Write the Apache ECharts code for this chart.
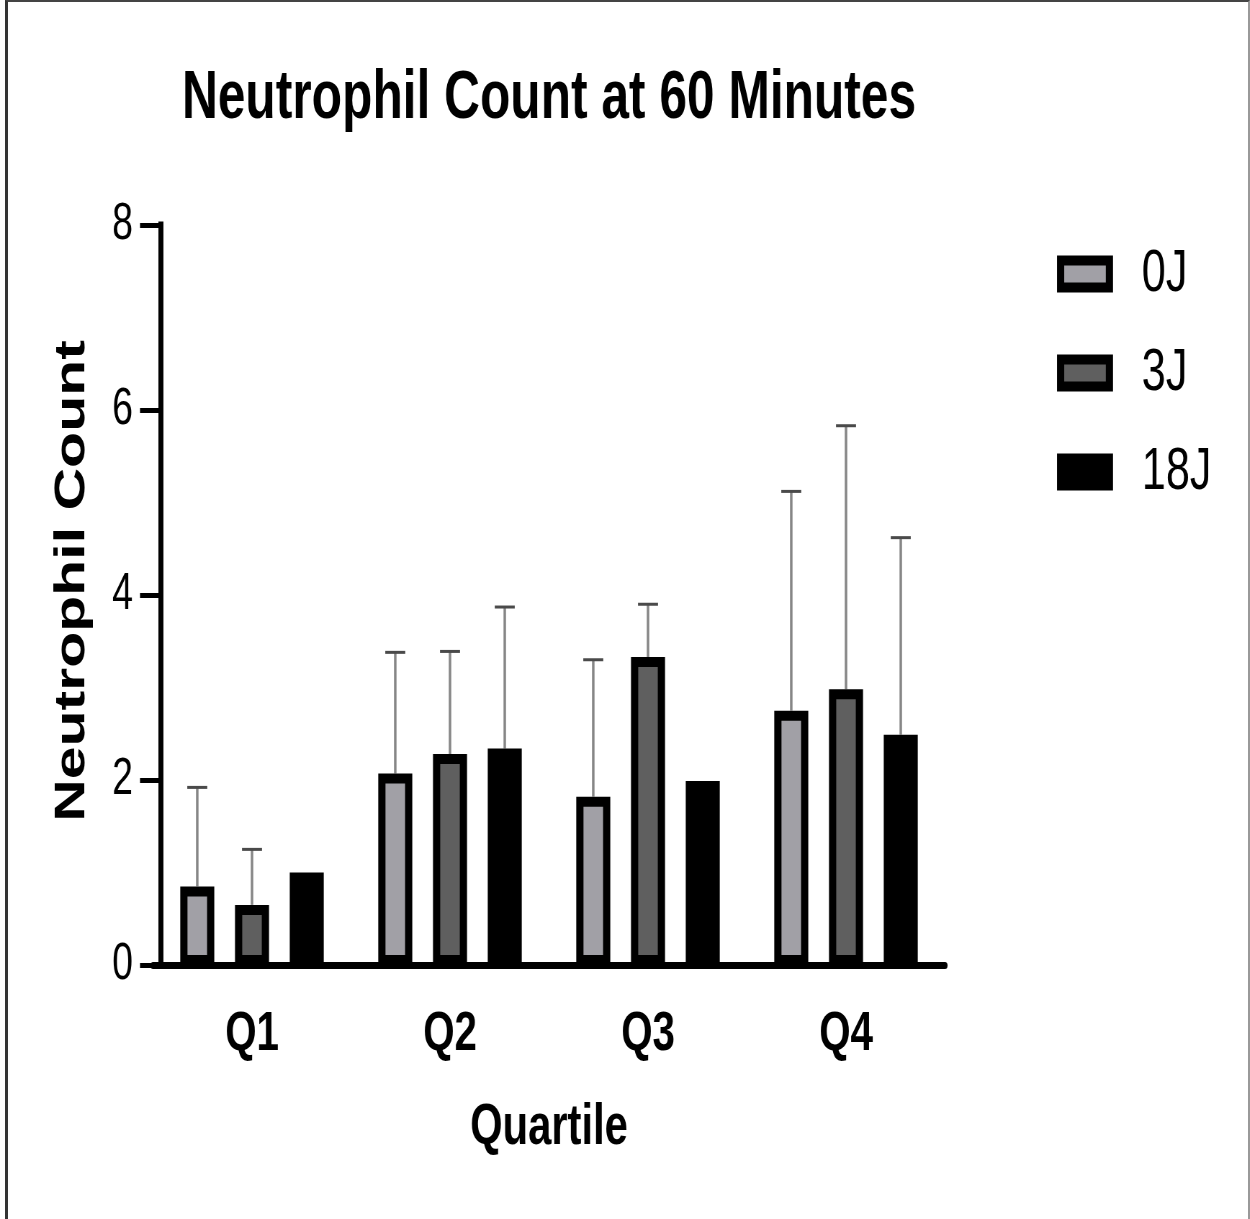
<!DOCTYPE html>
<html>
<head>
<meta charset="utf-8">
<title>Neutrophil Count at 60 Minutes</title>
<script src="https://cdn.jsdelivr.net/npm/echarts@6/dist/echarts.min.js"></script>
<style>
  html, body { margin: 0; padding: 0; background: #fff; overflow: hidden; }
  #wrap { position: relative; width: 1250px; height: 1219px; overflow: hidden; }
  #chart { height: 1219px; transform-origin: 0 0; }
  .frame {
    position: absolute; left: 5px; top: 0; width: 1245px; height: 1230px;
    border-left: 3px solid #333; border-top: 2px solid #444; border-right: 2px solid #999;
    box-sizing: border-box; pointer-events: none;
  }
</style>
</head>
<body>
<div id="wrap">
  <div id="chart"></div>
  <div class="frame"></div>
</div>
<script>
const QUARTILES = ['Q1', 'Q2', 'Q3', 'Q4']
const GROUPS = ['0J', '3J', '18J']

// bar heights (mean) per group, one value per quartile
const MEAN_0J = [0.85, 2.07, 1.82, 2.75]
const MEAN_3J = [0.65, 2.28, 3.33, 2.98]
const MEAN_18J = [1.0, 2.34, 1.99, 2.49]

// upward error (SD), null = no error bar
const SD_0J = [1.07, 1.31, 1.48, 2.37]
const SD_3J = [0.60, 1.11, 0.57, 2.85]
const SD_18J = [null, 1.53, null, 2.13]

const Y_TICKS = [0, 2, 4, 6, 8]

const MEANS = [MEAN_0J, MEAN_3J, MEAN_18J]
const SDS = [SD_0J, SD_3J, SD_18J]
const FILLS = ['#a1a0a6', '#5f5f5f', '#000000']

// the original figure is squeezed sideways, so the chart is laid out
// wider and scaled back down horizontally
const SQUASH = 0.72
const sx = (v) => v / SQUASH
const CHART_W = Math.round(sx(1250))

const FONT = "'Liberation Sans', Arial, sans-serif"
const BAR_W = sx(34)
const BAR_GAP = 0.61

const el = document.getElementById('chart')
el.style.width = CHART_W + 'px'
el.style.transform = `scaleX(${SQUASH})`
const chart = echarts.init(el)

const barSeries = GROUPS.map((name, gi) => ({
  name,
  type: 'bar',
  data: MEANS[gi],
  barWidth: BAR_W,
  barGap: BAR_GAP * 100 + '%',
  z: 3,
  itemStyle: {
    color: FILLS[gi],
    borderColor: '#000',
    borderWidth: 10,
  },
}))

const errorSeries = GROUPS.map((name, gi) => ({
  name: name + ' SD',
  type: 'custom',
  z: 2,
  silent: true,
  data: MEANS[gi]
    .map((m, i) => (SDS[gi][i] == null ? null : [i, m, m + SDS[gi][i]]))
    .filter((d) => d != null),
  encode: { x: 0, y: [1, 2] },
  renderItem: (params, api) => {
    const base = api.coord([api.value(0), api.value(1)])
    const top = api.coord([api.value(0), api.value(2)])
    const x = base[0] + (gi - 1) * BAR_W * (1 + BAR_GAP)
    return {
      type: 'group',
      children: [
        {
          type: 'line',
          shape: { x1: x, y1: base[1], x2: x, y2: top[1] },
          style: { stroke: '#868686', lineWidth: 3.5 },
        },
        {
          type: 'line',
          shape: { x1: x - sx(10), y1: top[1], x2: x + sx(10), y2: top[1] },
          style: { stroke: '#4a4a4a', lineWidth: 3 },
        },
      ],
    }
  },
}))

chart.setOption({
  animation: false,
  backgroundColor: '#fff',
  title: {
    text: 'Neutrophil Count at 60 Minutes',
    left: sx(549),
    textAlign: 'center',
    top: 64,
    padding: 0,
    textStyle: {
      fontFamily: FONT,
      fontWeight: 'bold',
      fontSize: 69,
      color: '#000',
    },
  },
  legend: {
    data: GROUPS,
    orient: 'vertical',
    left: sx(1057),
    top: 244,
    padding: 0,
    icon: 'rect',
    itemWidth: sx(56) - 10,
    itemHeight: 27,
    itemGap: 39,
    itemStyle: { borderColor: '#000', borderWidth: 10 },
    textStyle: {
      fontFamily: FONT,
      fontSize: 60,
      lineHeight: 60,
      color: '#000',
      padding: [0, 0, 0, 40],
    },
  },
  grid: {
    left: sx(153),
    right: CHART_W - sx(945),
    top: 225,
    bottom: 254,
    containLabel: false,
  },
  xAxis: {
    type: 'category',
    data: QUARTILES,
    axisLine: { lineStyle: { color: '#000', width: 7 } },
    axisTick: { alignWithLabel: true, length: 28, lineStyle: { color: '#000', width: sx(4) } },
    axisLabel: {
      fontFamily: FONT,
      fontWeight: 'bold',
      fontSize: 56,
      color: '#000',
      margin: 42,
    },
    name: 'Quartile',
    nameLocation: 'middle',
    nameGap: 134,
    nameTextStyle: {
      fontFamily: FONT,
      fontWeight: 'bold',
      fontSize: 58,
      color: '#000',
    },
  },
  yAxis: {
    type: 'value',
    min: Y_TICKS[0],
    max: Y_TICKS[Y_TICKS.length - 1],
    interval: Y_TICKS[1] - Y_TICKS[0],
    offset: -(sx(161) - sx(153)),
    axisLine: { show: true, lineStyle: { color: '#000', width: sx(5), cap: 'square' } },
    axisTick: { show: true, length: sx(21), lineStyle: { color: '#000', width: 5 } },
    axisLabel: {
      fontFamily: FONT,
      fontSize: 52,
      color: '#000',
      margin: sx(161 - 133),
    },
    splitLine: { show: false },
    name: 'Neutrophil Count',
    nameLocation: 'middle',
    nameGap: 93,
    nameTextStyle: {
      fontFamily: FONT,
      fontWeight: 'bold',
      fontSize: 59,
      color: '#000',
      padding: [0, 0, 0, 28],
    },
  },
  series: [...errorSeries, ...barSeries],
})
</script>
</body>
</html>
